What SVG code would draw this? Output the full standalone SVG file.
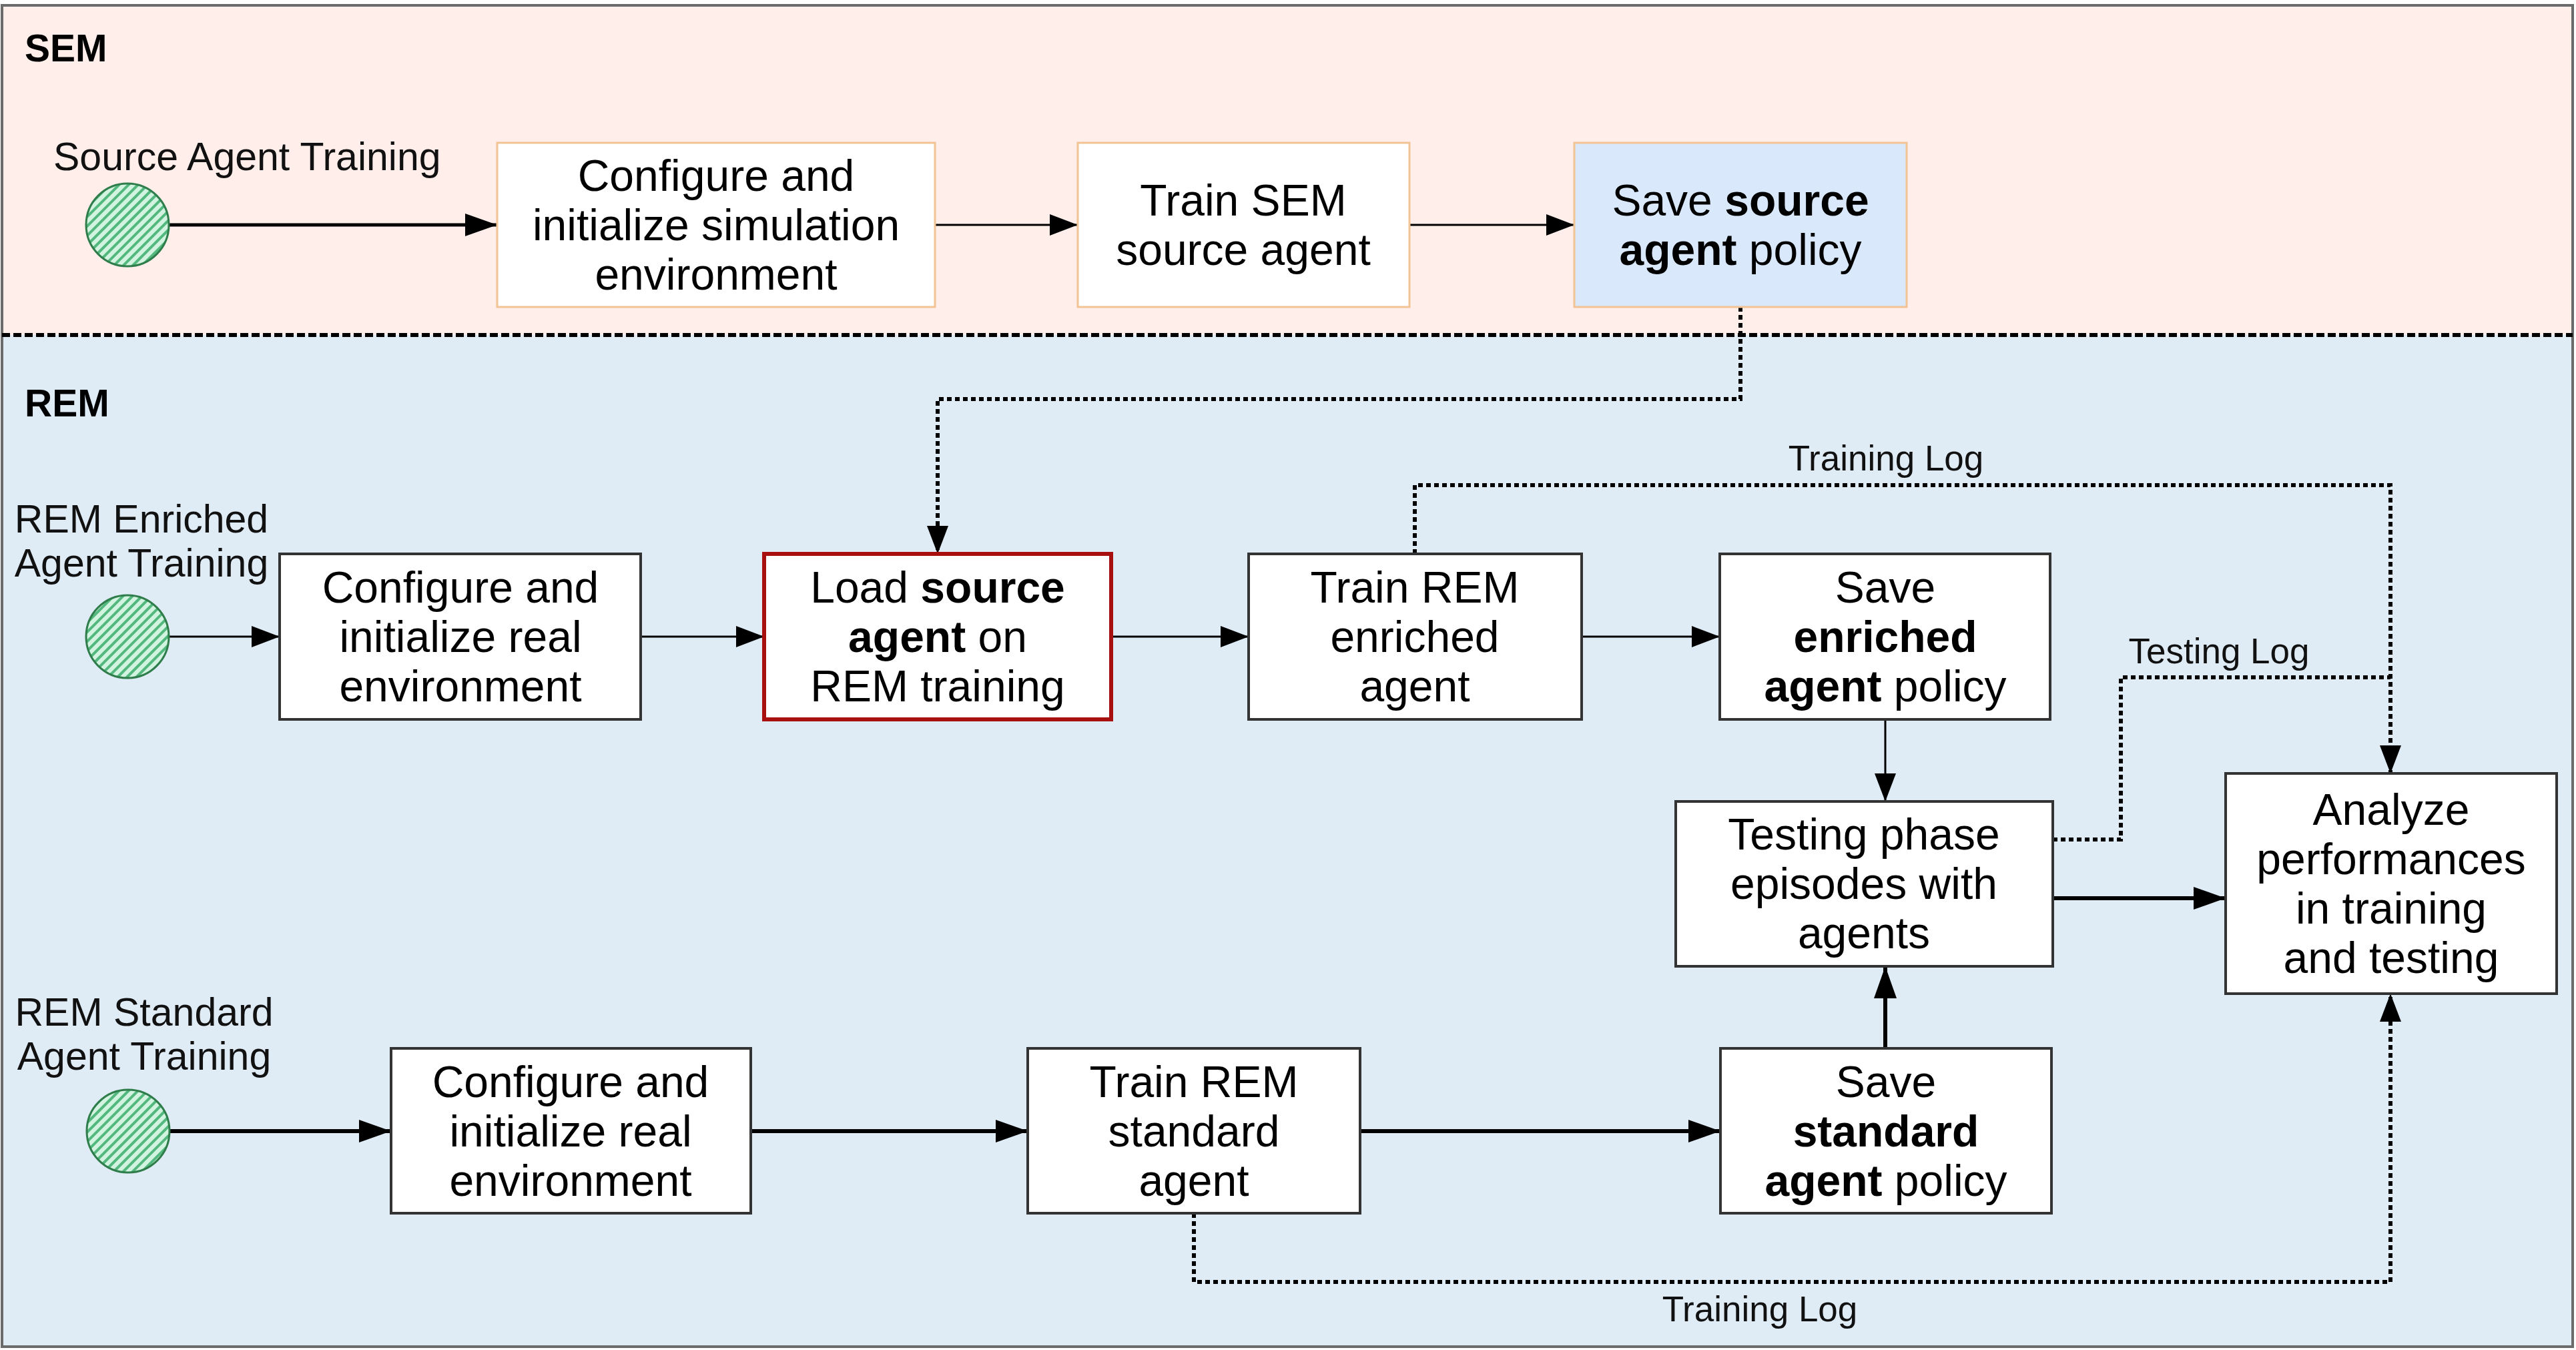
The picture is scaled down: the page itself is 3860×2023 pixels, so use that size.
<svg xmlns="http://www.w3.org/2000/svg" width="3860" height="2023" viewBox="0 0 3860 2023">
  <style>
    text { font-family: "Liberation Sans", Arial, sans-serif; fill: #000; }
    .lane-title { font-size: 57px; font-weight: bold; }
    .lane-label { font-size: 59px; fill: #111; }
    .box-text { font-size: 66px; text-anchor: middle; }
    .log { font-size: 53px; text-anchor: middle; fill: #111; }
    .b { font-weight: bold; }
    .sem-box { fill: #ffffff; stroke: #f2c394; stroke-width: 3; }
    .rem-box { fill: #ffffff; stroke: #333333; stroke-width: 4; }
    .start { fill: url(#hatch); stroke: #2e7d4a; stroke-width: 3; }
    .flow { fill: none; stroke: #000; stroke-width: 3; marker-end: url(#arrow); }
    .flow-thick { fill: none; stroke: #000; stroke-width: 6; marker-end: url(#arrow-lg); }
    .log-line { fill: none; stroke: #000; stroke-width: 6; stroke-dasharray: 7 5; }
  </style>
  <defs>
    <pattern id="hatch" patternUnits="userSpaceOnUse" width="10" height="10" patternTransform="rotate(45)">
      <rect width="10" height="10" fill="#d2f3e0"/>
      <rect width="4" height="10" fill="#52b87e"/>
    </pattern>
    <marker id="arrow" markerUnits="userSpaceOnUse" markerWidth="44" markerHeight="34" refX="42" refY="16" orient="auto">
      <path d="M0,0 L42,16 L0,32 Z" fill="#000"/>
    </marker>
    <marker id="arrow-lg" markerUnits="userSpaceOnUse" markerWidth="50" markerHeight="36" refX="48" refY="17" orient="auto">
      <path d="M0,0 L48,17 L0,34 Z" fill="#000"/>
    </marker>
  </defs>

  <!-- swimlanes -->
  <g id="lanes">
    <rect x="3" y="8" width="3852" height="494" fill="#ffeeea"/>
    <rect x="3" y="502" width="3852" height="1516" fill="#dfebf5"/>
    <rect x="3" y="8" width="3852" height="2010" fill="none" stroke="#6b6b6b" stroke-width="4"/>
    <line x1="3" y1="502" x2="3855" y2="502" stroke="#000" stroke-width="6" stroke-dasharray="12 5"/>
    <text class="lane-title" x="37" y="92">SEM</text>
    <text class="lane-title" x="37" y="624">REM</text>
  </g>

  <!-- connectors -->
  <g id="connectors">
    <path class="flow-thick" d="M253,337 H745" style="stroke-width:5"/>
    <path class="flow" d="M1401,337 H1615"/>
    <path class="flow" d="M2112,337 H2359"/>
    <path class="log-line" d="M2608,460 V598 H1405 V830" marker-end="url(#arrow)"/>

    <path class="flow" d="M253,954 H419"/>
    <path class="flow" d="M960,954 H1145"/>
    <path class="flow" d="M1665,954 H1871"/>
    <path class="flow" d="M2370,954 H2577"/>
    <path class="flow" d="M2825,1079 V1201"/>
    <path class="log-line" d="M2120,830 V727 H3582 V1159" marker-end="url(#arrow)"/>
    <path class="log-line" d="M3076,1258 H3178 V1015 H3582"/>
    <path class="flow-thick" d="M3076,1346 H3335"/>

    <path class="flow-thick" d="M254,1695 H586"/>
    <path class="flow-thick" d="M1125,1695 H1540"/>
    <path class="flow-thick" d="M2038,1695 H2578"/>
    <path class="flow-thick" d="M2825,1571 V1448"/>
    <path class="log-line" d="M1789,1818 V1921 H3582 V1489" marker-end="url(#arrow)"/>

    <text class="log" x="2826" y="705">Training Log</text>
    <text class="log" x="3325" y="994">Testing Log</text>
    <text class="log" x="2637" y="1980">Training Log</text>
  </g>

  <!-- SEM lane -->
  <g id="source-start">
    <text class="lane-label" x="80" y="255">Source Agent Training</text>
    <circle class="start" cx="191" cy="337" r="62"/>
  </g>
  <g id="sem-configure">
    <rect class="sem-box" x="745" y="214" width="656" height="246"/>
    <text class="box-text" x="1073" y="286">Configure and</text>
    <text class="box-text" x="1073" y="360">initialize simulation</text>
    <text class="box-text" x="1073" y="434">environment</text>
  </g>
  <g id="sem-train">
    <rect class="sem-box" x="1615" y="214" width="497" height="246"/>
    <text class="box-text" x="1863" y="323">Train SEM</text>
    <text class="box-text" x="1863" y="397">source agent</text>
  </g>
  <g id="sem-save">
    <rect class="sem-box" x="2359" y="214" width="498" height="246" style="fill:#dae8fc"/>
    <text class="box-text" x="2608" y="323">Save <tspan class="b">source</tspan></text>
    <text class="box-text" x="2608" y="397"><tspan class="b">agent</tspan> policy</text>
  </g>

  <!-- REM enriched row -->
  <g id="enriched-start">
    <text class="lane-label" x="212" y="798" text-anchor="middle">REM Enriched</text>
    <text class="lane-label" x="212" y="864" text-anchor="middle">Agent Training</text>
    <circle class="start" cx="191" cy="954" r="62"/>
  </g>
  <g id="enriched-configure">
    <rect class="rem-box" x="419" y="830" width="541" height="248"/>
    <text class="box-text" x="690" y="903">Configure and</text>
    <text class="box-text" x="690" y="977">initialize real</text>
    <text class="box-text" x="690" y="1051">environment</text>
  </g>
  <g id="enriched-load">
    <rect class="rem-box" x="1145" y="830" width="520" height="248" style="stroke:#a80f0f;stroke-width:6"/>
    <text class="box-text" x="1405" y="903">Load <tspan class="b">source</tspan></text>
    <text class="box-text" x="1405" y="977"><tspan class="b">agent</tspan> on</text>
    <text class="box-text" x="1405" y="1051">REM training</text>
  </g>
  <g id="enriched-train">
    <rect class="rem-box" x="1871" y="830" width="499" height="248"/>
    <text class="box-text" x="2120" y="903">Train REM</text>
    <text class="box-text" x="2120" y="977">enriched</text>
    <text class="box-text" x="2120" y="1051">agent</text>
  </g>
  <g id="enriched-save">
    <rect class="rem-box" x="2577" y="830" width="495" height="248"/>
    <text class="box-text" x="2825" y="903">Save</text>
    <text class="box-text b" x="2825" y="977">enriched</text>
    <text class="box-text" x="2825" y="1051"><tspan class="b">agent</tspan> policy</text>
  </g>

  <!-- testing and analysis -->
  <g id="testing">
    <rect class="rem-box" x="2511" y="1201" width="565" height="247"/>
    <text class="box-text" x="2793" y="1273">Testing phase</text>
    <text class="box-text" x="2793" y="1347">episodes with</text>
    <text class="box-text" x="2793" y="1421">agents</text>
  </g>
  <g id="analyze">
    <rect class="rem-box" x="3335" y="1159" width="496" height="330"/>
    <text class="box-text" x="3583" y="1236">Analyze</text>
    <text class="box-text" x="3583" y="1310">performances</text>
    <text class="box-text" x="3583" y="1384">in training</text>
    <text class="box-text" x="3583" y="1458">and testing</text>
  </g>

  <!-- REM standard row -->
  <g id="standard-start">
    <text class="lane-label" x="216" y="1537" text-anchor="middle">REM Standard</text>
    <text class="lane-label" x="216" y="1603" text-anchor="middle">Agent Training</text>
    <circle class="start" cx="192" cy="1695" r="62"/>
  </g>
  <g id="standard-configure">
    <rect class="rem-box" x="586" y="1571" width="539" height="247"/>
    <text class="box-text" x="855" y="1644">Configure and</text>
    <text class="box-text" x="855" y="1718">initialize real</text>
    <text class="box-text" x="855" y="1792">environment</text>
  </g>
  <g id="standard-train">
    <rect class="rem-box" x="1540" y="1571" width="498" height="247"/>
    <text class="box-text" x="1789" y="1644">Train REM</text>
    <text class="box-text" x="1789" y="1718">standard</text>
    <text class="box-text" x="1789" y="1792">agent</text>
  </g>
  <g id="standard-save">
    <rect class="rem-box" x="2578" y="1571" width="496" height="247"/>
    <text class="box-text" x="2826" y="1644">Save</text>
    <text class="box-text b" x="2826" y="1718">standard</text>
    <text class="box-text" x="2826" y="1792"><tspan class="b">agent</tspan> policy</text>
  </g>
</svg>
